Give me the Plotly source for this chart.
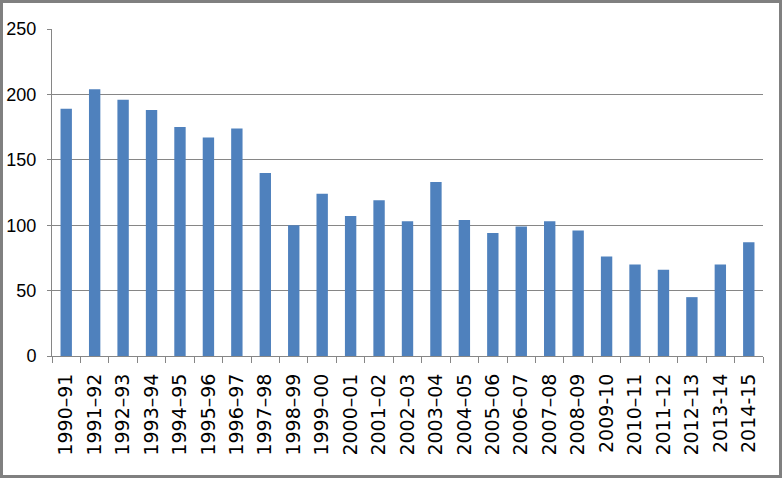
import plotly.graph_objects as go

# years (en dash for most labels, plain hyphen where the source used one)
years = ['1990–91', '1991–92', '1992–93', '1993–94', '1994–95', '1995–96',
         '1996–97', '1997–98', '1998–99', '1999–00', '2000–01', '2001–02',
         '2002–03', '2003–04', '2004–05', '2005–06', '2006–07', '2007–08',
         '2008–09', '2009-10', '2010–11', '2011–12', '2012–13', '2013-14',
         '2014-15']
values = [189, 204, 196, 188, 175, 167, 174, 140, 100, 124, 107, 119,
          103, 133, 104, 94, 99, 103, 96, 76, 70, 66, 45, 70, 87]
y_ticks = [0, 50, 100, 150, 200, 250]

W, H = 782, 478
m_l, m_r, m_t, m_b = 52, 19, 29, 122

fig = go.Figure()
fig.add_trace(go.Bar(x=years, y=values, marker=dict(color='#4F81BD', line=dict(width=0))))

pw = W - m_l - m_r
ph = H - m_t - m_b

fig.update_layout(
    width=W, height=H,
    margin=dict(l=m_l, r=m_r, t=m_t, b=m_b, pad=0, autoexpand=False),
    paper_bgcolor='white', plot_bgcolor='white',
    bargap=0.6, showlegend=False,
    xaxis=dict(
        type='category', tickangle=-90,
        tickfont=dict(family='DejaVu Sans', size=19, color='#000000'),
        ticks='outside', tickson='boundaries', ticklen=6, tickcolor='#868686',
        ticklabelstandoff=9,
        showline=True, linecolor='#868686', linewidth=1,
        showgrid=False,
    ),
    yaxis=dict(
        range=[0, 250], tickvals=y_ticks,
        tickfont=dict(family='Liberation Sans', size=18, color='#000000'),
        ticks='outside', ticklen=4, tickcolor='#868686',
        ticklabelstandoff=7,
        showline=True, linecolor='#868686', linewidth=1,
        showgrid=True, gridcolor='#868686', gridwidth=1,
        zeroline=False,
    ),
    # outer frame of the chart
    shapes=[dict(
        type='rect', xref='paper', yref='paper',
        x0=(1.5 - m_l) / pw, x1=(W - 1.5 - m_l) / pw,
        y0=-(m_b - 1.5) / ph, y1=1 + (m_t - 1.5) / ph,
        line=dict(color='#808080', width=3),
    )],
)

# drop the default body margin so the figure sits at the page corner
fig.write_html("out.html", config={'displayModeBar': False},
               post_script="document.body.style.margin='0';")
